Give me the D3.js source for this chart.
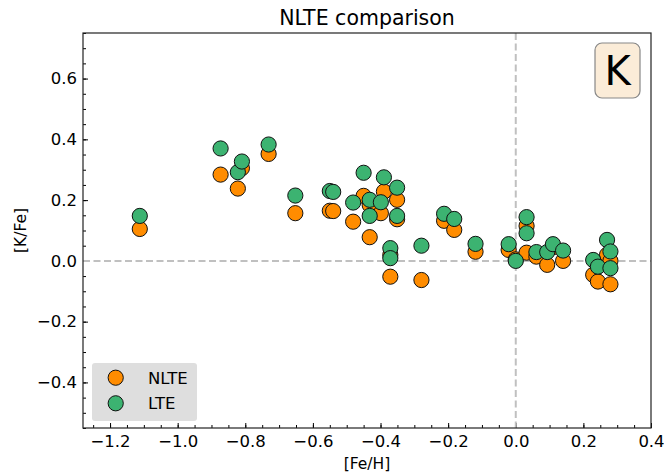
<!DOCTYPE html>
<html>
<head>
<meta charset="utf-8">
<script src="https://cdn.jsdelivr.net/npm/d3@7"></script>
<style>
  body { margin: 0; background: #fff; }
  svg { font-family: "DejaVu Sans", sans-serif; }
</style>
</head>
<body>
<div id="chart"></div>
<script>
// [Fe/H] of each star, with its [K/Fe] in NLTE and LTE
var feh  = [-1.112, -0.873, -0.822, -0.810, -0.731, -0.652, -0.550, -0.540, -0.481, -0.450,
            -0.432, -0.432, -0.399, -0.390, -0.351, -0.351, -0.371, -0.371, -0.279, -0.212,
            -0.182, -0.119, -0.021, 0.000, 0.032, 0.032, 0.061, 0.093, 0.110, 0.140,
            0.229, 0.243, 0.270, 0.280, 0.280];
var nlte = [0.105, 0.284, 0.238, 0.305, 0.352, 0.157, 0.165, 0.164, 0.129, 0.214,
            0.184, 0.078, 0.157, 0.228, 0.201, 0.137, 0.020, -0.052, -0.063, 0.132,
            0.102, 0.030, 0.036, 0.005, 0.115, 0.027, 0.014, -0.013, 0.045, 0.000,
            -0.046, -0.068, 0.020, 0.000, -0.077];
var lte  = [0.148, 0.370, 0.292, 0.327, 0.383, 0.215, 0.230, 0.227, 0.192, 0.290,
            0.201, 0.148, 0.193, 0.275, 0.241, 0.148, 0.042, 0.009, 0.050, 0.155,
            0.138, 0.056, 0.055, 0.000, 0.144, 0.091, 0.029, 0.029, 0.055, 0.034,
            0.003, -0.019, 0.069, 0.031, -0.024];
var xTicks = [-1.2, -1.0, -0.8, -0.6, -0.4, -0.2, 0.0, 0.2, 0.4];
var yTicks = [-0.4, -0.2, 0.0, 0.2, 0.4, 0.6];
var seriesNames = ["NLTE", "LTE"];
var seriesColors = ["#ff8c00", "#3cb371"];

var W = 664, H = 474,
    pLeft = 83, pRight = 651, pTop = 33, pBottom = 428;

var x = d3.scaleLinear().domain([-1.28, 0.4]).range([pLeft, pRight]),
    y = d3.scaleLinear().domain([-0.55, 0.75]).range([pBottom, pTop]);

var svg = d3.select("#chart").append("svg").attr("width", W).attr("height", H);

var fmt = d3.format(".1f");
var xMinor = d3.range(-1.25, 0.4001, 0.05),
    yMinor = d3.range(-0.55, 0.7501, 0.05);

// minor ticks first, inward
svg.append("g").attr("transform", "translate(0," + pBottom + ")")
    .call(d3.axisBottom(x).tickValues(xMinor).tickSize(-3).tickFormat(""))
    .call(function(g) { g.select(".domain").remove(); });
svg.append("g").attr("transform", "translate(" + pLeft + ",0)")
    .call(d3.axisLeft(y).tickValues(yMinor).tickSize(-3).tickFormat(""))
    .call(function(g) { g.select(".domain").remove(); });

var gx = svg.append("g").attr("transform", "translate(0," + pBottom + ")")
    .call(d3.axisBottom(x).tickValues(xTicks).tickSize(-5).tickPadding(7).tickFormat(fmt));
var gy = svg.append("g").attr("transform", "translate(" + pLeft + ",0)")
    .call(d3.axisLeft(y).tickValues(yTicks).tickSize(-5).tickPadding(6).tickFormat(fmt));
[gx, gy].forEach(function(g) {
    g.select(".domain").remove();
    g.selectAll("text").attr("font-size", 16.5).attr("fill", "#000")
        .attr("font-family", "DejaVu Sans");
});
svg.selectAll(".tick line").attr("stroke", "#000").attr("stroke-width", 1);

// zero lines
svg.append("line")
    .attr("x1", pLeft).attr("x2", pRight).attr("y1", y(0)).attr("y2", y(0))
    .attr("stroke", "#c0c0c0").attr("stroke-width", 2).attr("stroke-dasharray", "7,3.5");
svg.append("line")
    .attr("x1", x(0)).attr("x2", x(0)).attr("y1", pTop).attr("y2", pBottom)
    .attr("stroke", "#c0c0c0").attr("stroke-width", 2).attr("stroke-dasharray", "7,3.5");

// points: NLTE then LTE on top
[nlte, lte].forEach(function(vals, s) {
    svg.append("g").selectAll("circle")
        .data(feh.map(function(f, i) { return [f, vals[i]]; }))
        .enter().append("circle")
        .attr("cx", function(d) { return x(d[0]); })
        .attr("cy", function(d) { return y(d[1]); })
        .attr("r", 7.6)
        .attr("fill", seriesColors[s])
        .attr("stroke", "#111").attr("stroke-width", 1);
});

// frame
svg.append("rect")
    .attr("x", pLeft).attr("y", pTop).attr("width", pRight - pLeft).attr("height", pBottom - pTop)
    .attr("fill", "none").attr("stroke", "#222").attr("stroke-width", 1.2);

// title and labels
svg.append("text").attr("x", (pLeft + pRight) / 2).attr("y", 25)
    .attr("text-anchor", "middle").attr("font-size", 20.5).text("NLTE comparison");
svg.append("text").attr("x", (pLeft + pRight) / 2).attr("y", 469)
    .attr("text-anchor", "middle").attr("font-size", 15.5).text("[Fe/H]");
svg.append("text")
    .attr("transform", "translate(26," + ((pTop + pBottom) / 2) + ") rotate(-90)")
    .attr("text-anchor", "middle").attr("font-size", 15.5).text("[K/Fe]");

// element box
svg.append("rect").attr("x", 595).attr("y", 43).attr("width", 45).attr("height", 55)
    .attr("rx", 7).attr("fill", "#fbecd8").attr("stroke", "#888").attr("stroke-width", 1.2);
svg.append("text").attr("x", 617.5).attr("y", 85).attr("text-anchor", "middle")
    .attr("font-size", 40).text("K");

// legend
var leg = svg.append("g");
leg.append("rect").attr("x", 92).attr("y", 363).attr("width", 105).attr("height", 58)
    .attr("rx", 3).attr("fill", "#dedede");
seriesNames.forEach(function(name, i) {
    leg.append("circle").attr("cx", 115.7).attr("cy", 377.7 + i * 25.6).attr("r", 7.6)
        .attr("fill", seriesColors[i]).attr("stroke", "#111").attr("stroke-width", 1);
    leg.append("text").attr("x", 148).attr("y", 383.8 + i * 25.6)
        .attr("font-size", 16.5).text(name);
});
</script>
</body>
</html>
